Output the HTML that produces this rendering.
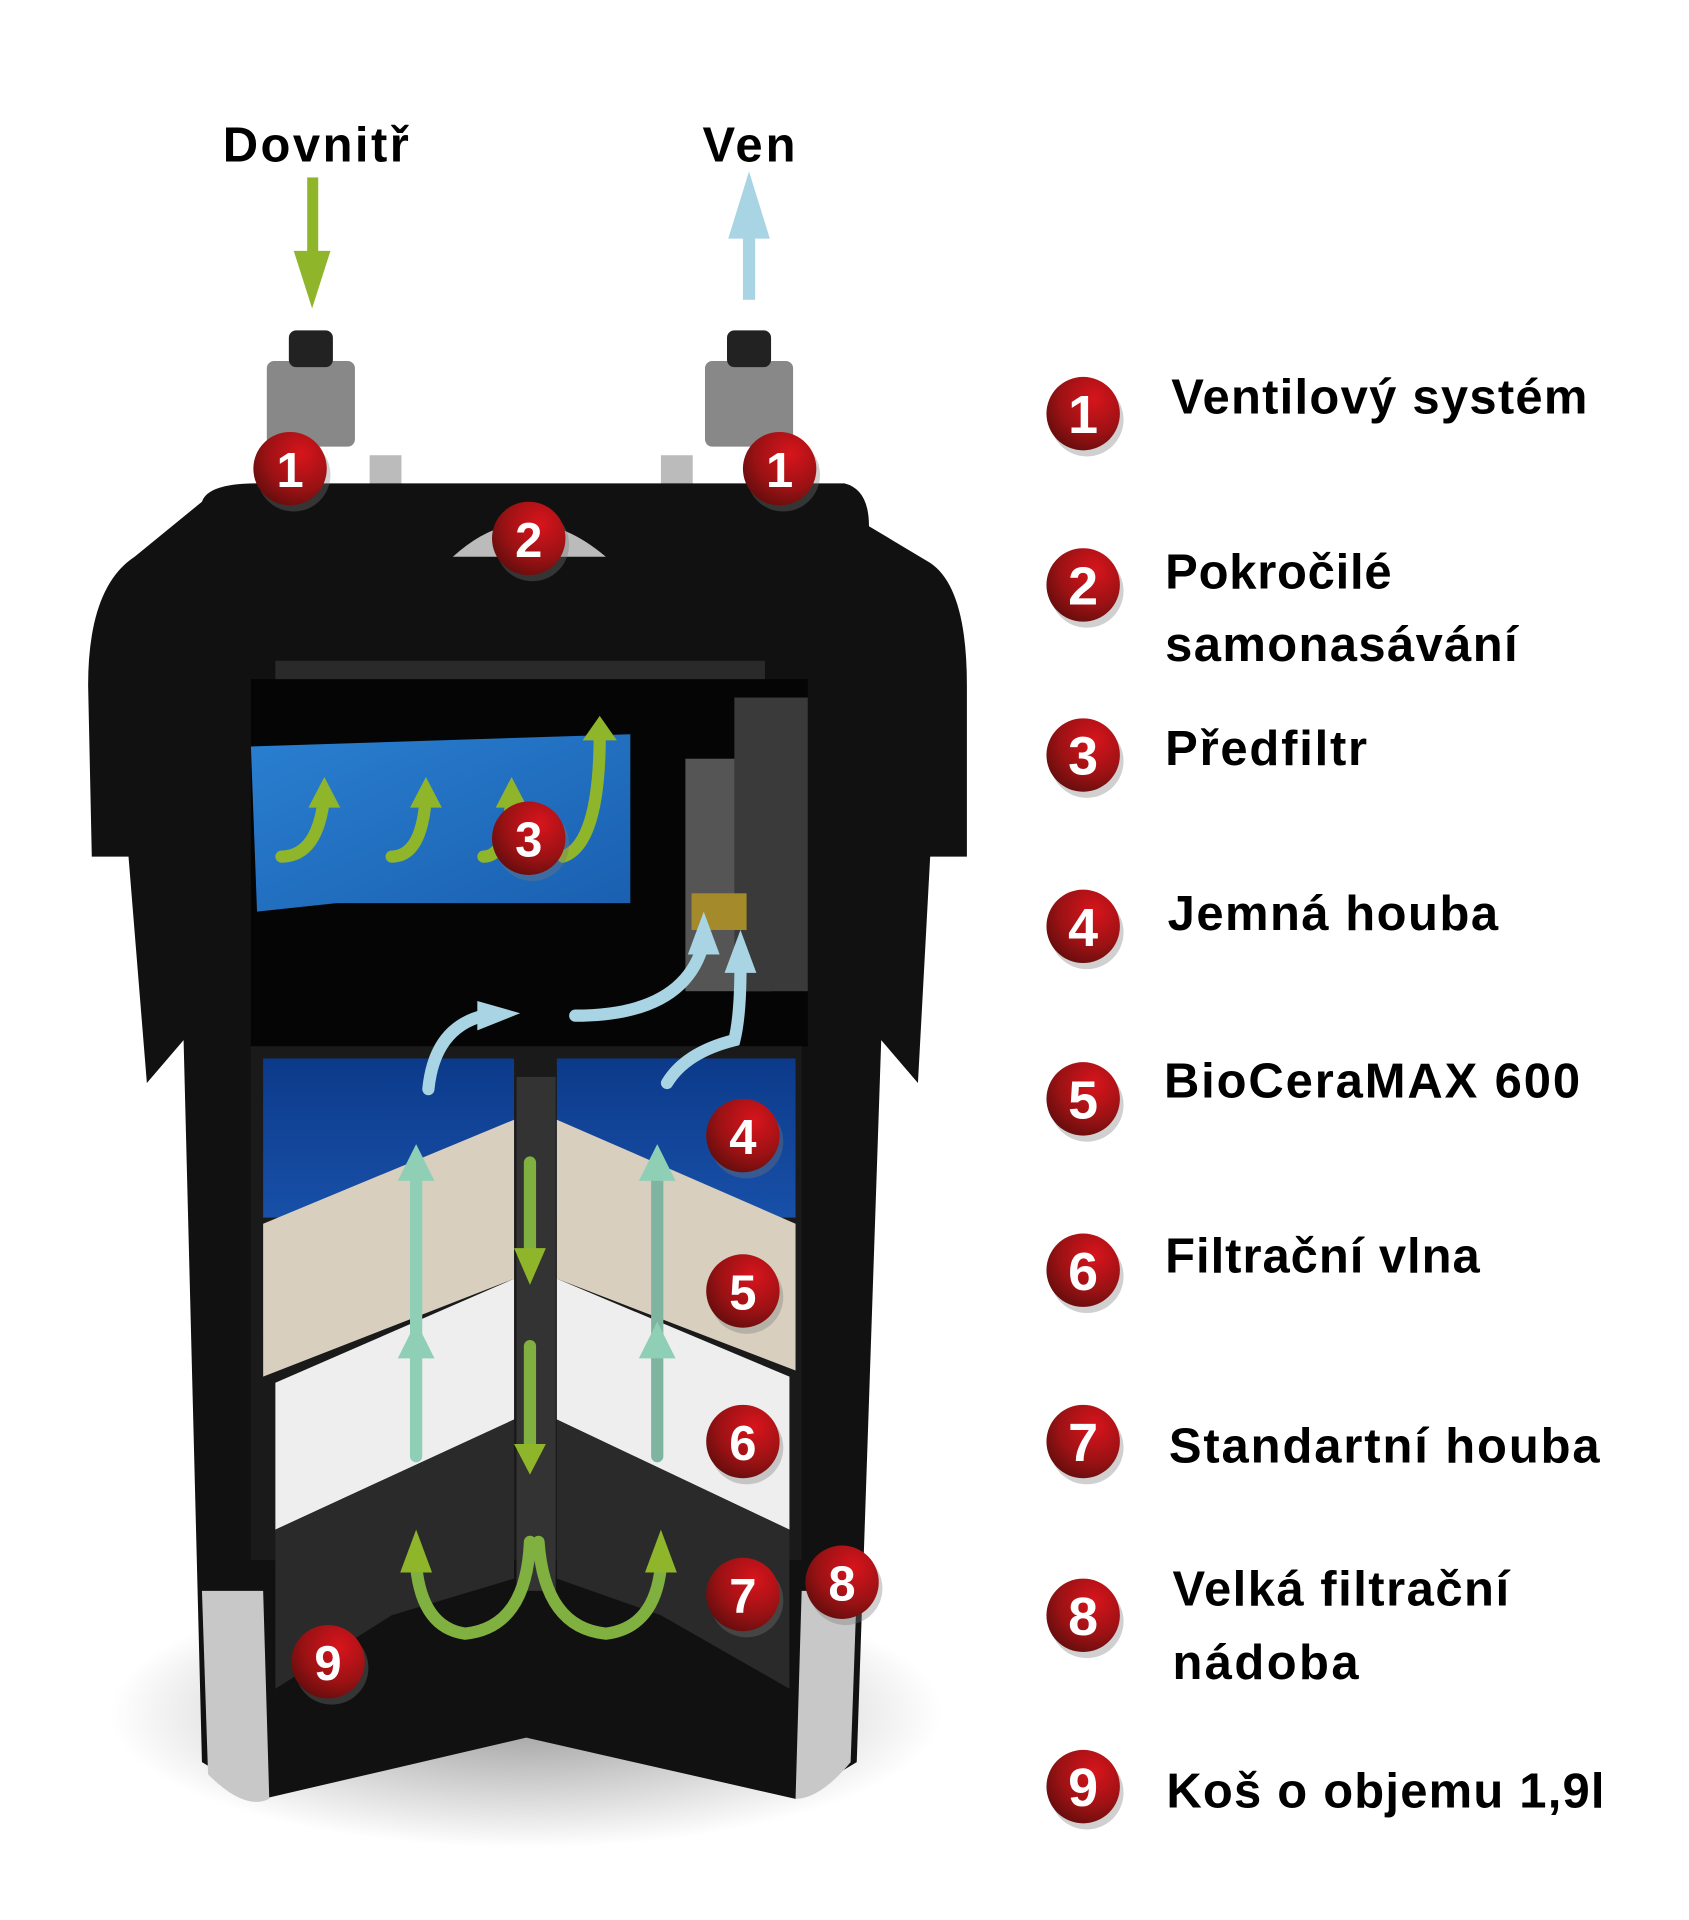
<!DOCTYPE html>
<html><head><meta charset="utf-8"><style>
html,body{margin:0;padding:0;background:#fff;}
svg{display:block}
text{font-family:"Liberation Sans",sans-serif;font-weight:bold;}
</style></head><body>
<svg width="1689" height="1920" viewBox="0 0 1380 1569" preserveAspectRatio="none" xmlns="http://www.w3.org/2000/svg">
<defs>
<radialGradient id="rb" cx="0.65" cy="0.3" r="0.8">
<stop offset="0" stop-color="#d8141c"/><stop offset="0.6" stop-color="#9a1214"/><stop offset="1" stop-color="#5e0c0c"/></radialGradient>
<linearGradient id="blue" x1="0" y1="0" x2="1" y2="1"><stop offset="0" stop-color="#2a7fd0"/><stop offset="1" stop-color="#1a5fb0"/></linearGradient>
<linearGradient id="dblue" x1="0" y1="0" x2="0" y2="1"><stop offset="0" stop-color="#0c3a8a"/><stop offset="1" stop-color="#1850a8"/></linearGradient>
<radialGradient id="shadow" cx="0.5" cy="0.5" r="0.5"><stop offset="0" stop-color="#999"/><stop offset="1" stop-color="#fff"/></radialGradient>
<g id="c">
<circle r="30" fill="#777" opacity="0.35" cx="3" cy="5"/>
<circle r="30" fill="url(#rb)"/>
</g>
</defs>
<rect width="1380" height="1569" fill="#fff"/>
<!-- base shadow -->
<ellipse cx="430" cy="1400" rx="340" ry="110" fill="url(#shadow)"/>
<!-- top labels -->
<text x="258" y="132" font-size="40" text-anchor="middle" textLength="152">Dovnitř</text>
<text x="612" y="132" font-size="40" text-anchor="middle" textLength="76">Ven</text>
<rect x="251" y="145" width="9" height="65" fill="#8fb52a"/>
<polygon points="240,205 270,205 255,252" fill="#8fb52a"/>
<rect x="607" y="190" width="10" height="55" fill="#a8d4e4"/>
<polygon points="595,195 629,195 612,140" fill="#a8d4e4"/>
<!-- valves -->
<g fill="#2a2a2a">
<rect x="218" y="295" width="72" height="70" rx="6" fill="#888"/>
<rect x="236" y="270" width="36" height="30" rx="6" fill="#222"/>
<rect x="576" y="295" width="72" height="70" rx="6" fill="#888"/>
<rect x="594" y="270" width="36" height="30" rx="6" fill="#222"/>
<rect x="302" y="372" width="26" height="60" fill="#bbb"/>
<rect x="540" y="372" width="26" height="60" fill="#bbb"/>
</g>
<!-- body -->
<path d="M165,410 Q170,395 210,395 L690,395 Q710,400 710,430 L760,460 Q790,480 790,560 L790,700 L760,700 L750,885 L720,850 L700,1440 L650,1470 L430,1420 L215,1470 L165,1440 L150,850 L120,885 L105,700 L75,700 L72,560 Q72,480 110,455 Z" fill="#111"/>
<path d="M165,1300 L170,1450 Q200,1480 220,1470 L215,1300Z" fill="#c8c8c8"/>
<path d="M700,1300 L695,1440 Q670,1470 650,1470 L655,1300Z" fill="#c8c8c8"/>
<path d="M370,455 Q430,400 495,455Z" fill="#bbb"/>
<rect x="225" y="540" width="400" height="25" fill="#2a2a2a"/>
<!-- inner cavity -->
<rect x="205" y="555" width="455" height="300" fill="#050505"/>
<!-- prefilter -->
<polygon points="205,610 515,600 515,738 275,738 210,745" fill="url(#blue)"/>
<!-- pump -->
<rect x="560" y="620" width="70" height="190" fill="#555"/>
<rect x="600" y="570" width="60" height="240" fill="#3a3a3a"/>
<rect x="565" y="730" width="45" height="30" fill="#a48a2a"/>
<!-- lower compartment -->
<rect x="205" y="855" width="450" height="420" fill="#1a1a1a"/>
<rect x="215" y="865" width="205" height="130" fill="url(#dblue)"/>
<rect x="455" y="865" width="195" height="130" fill="url(#dblue)"/>
<polygon points="215,1000 420,915 420,1045 215,1125" fill="#d8cfbf"/>
<polygon points="455,915 650,1000 650,1120 455,1045" fill="#d8cfbf"/>
<polygon points="225,1130 420,1045 420,1160 225,1250" fill="#eeeeee"/>
<polygon points="455,1045 645,1125 645,1250 455,1160" fill="#eeeeee"/>
<polygon points="225,1250 420,1160 420,1290 320,1320 225,1380" fill="#2a2a2a"/>
<polygon points="455,1160 645,1250 645,1380 540,1320 455,1290" fill="#2a2a2a"/>
<rect x="422" y="880" width="32" height="420" fill="#333"/>
<!-- arrows -->
<g fill="none" stroke-width="10" stroke-linecap="round">
<path d="M230,700 Q260,700 265,650" stroke="#8fb52a"/>
<path d="M320,700 Q345,700 348,650" stroke="#8fb52a"/>
<path d="M395,700 Q415,700 418,650" stroke="#8fb52a"/>
<path d="M460,700 Q490,690 490,600" stroke="#8fb52a"/>
<path d="M350,890 Q355,840 395,830" stroke="#a8d4e4"/>
<path d="M470,830 Q560,830 575,770" stroke="#a8d4e4"/>
<path d="M545,885 Q560,860 600,850 Q605,830 605,790" stroke="#a8d4e4"/>
<path d="M340,1100 L340,960" stroke="#8fcfb5"/>
<path d="M340,1190 L340,1100" stroke="#8fcfb5"/>
<path d="M537,1100 L537,960" stroke="#7fb5a0"/>
<path d="M537,1190 L537,1100" stroke="#7fb5a0"/>
<path d="M433,950 L433,1020" stroke="#7fb040"/>
<path d="M433,1100 L433,1180" stroke="#7fb040"/>
<path d="M433,1260 Q430,1330 380,1335 Q345,1330 340,1280" stroke="#7fb040"/>
<path d="M440,1260 Q445,1330 495,1335 Q535,1330 540,1280" stroke="#7fb040"/>
</g>
<g fill="#8fb52a">
<polygon points="252,660 278,660 265,635"/><polygon points="335,660 361,660 348,635"/><polygon points="405,660 431,660 418,635"/><polygon points="476,605 504,605 490,585"/>
<polygon points="420,1020 446,1020 433,1050"/><polygon points="420,1180 446,1180 433,1205"/>
<polygon points="327,1285 353,1285 340,1250"/><polygon points="527,1285 553,1285 540,1250"/>
</g>
<g fill="#a8d4e4"><polygon points="390,818 390,842 425,828"/><polygon points="562,780 588,780 575,745"/><polygon points="592,795 618,795 605,760"/></g>
<g fill="#8fcfb5"><polygon points="325,965 355,965 340,935"/><polygon points="325,1110 355,1110 340,1080"/><polygon points="522,965 552,965 537,935"/><polygon points="522,1110 552,1110 537,1080"/></g>
<!-- diagram badges -->
<g font-size="40" fill="#fff" text-anchor="middle">
<use href="#c" x="237" y="383"/><text x="237" y="398">1</text>
<use href="#c" x="637" y="383"/><text x="637" y="398">1</text>
<use href="#c" x="432" y="440"/><text x="432" y="455">2</text>
<use href="#c" x="432" y="685"/><text x="432" y="700">3</text>
<use href="#c" x="607" y="928"/><text x="607" y="943">4</text>
<use href="#c" x="607" y="1055"/><text x="607" y="1070">5</text>
<use href="#c" x="607" y="1178"/><text x="607" y="1193">6</text>
<use href="#c" x="607" y="1303"/><text x="607" y="1318">7</text>
<use href="#c" x="688" y="1293"/><text x="688" y="1308">8</text>
<use href="#c" x="268" y="1358"/><text x="268" y="1373">9</text>
</g>
<!-- legend -->
<g font-size="44" fill="#fff" text-anchor="middle">
<use href="#c" x="885" y="338"/><text x="885" y="354">1</text>
<use href="#c" x="885" y="478"/><text x="885" y="494">2</text>
<use href="#c" x="885" y="617"/><text x="885" y="633">3</text>
<use href="#c" x="885" y="757"/><text x="885" y="773">4</text>
<use href="#c" x="885" y="898"/><text x="885" y="914">5</text>
<use href="#c" x="885" y="1038"/><text x="885" y="1054">6</text>
<use href="#c" x="885" y="1178"/><text x="885" y="1194">7</text>
<use href="#c" x="885" y="1320"/><text x="885" y="1336">8</text>
<use href="#c" x="885" y="1460"/><text x="885" y="1476">9</text>
</g>
<g font-size="40" fill="#000">
<text x="957" y="338" textLength="340">Ventilový systém</text>
<text x="952" y="481" textLength="185">Pokročilé</text>
<text x="952" y="540" textLength="288">samonasávání</text>
<text x="952" y="625" textLength="165">Předfiltr</text>
<text x="954" y="760" textLength="270">Jemná houba</text>
<text x="951" y="897" textLength="340">BioCeraMAX 600</text>
<text x="952" y="1040" textLength="257">Filtrační vlna</text>
<text x="955" y="1195" textLength="352">Standartní houba</text>
<text x="958" y="1312" textLength="275">Velká filtrační</text>
<text x="958" y="1372" textLength="152">nádoba</text>
<text x="953" y="1477" textLength="358">Koš o objemu 1,9l</text>
</g>
</svg>
</body></html>
